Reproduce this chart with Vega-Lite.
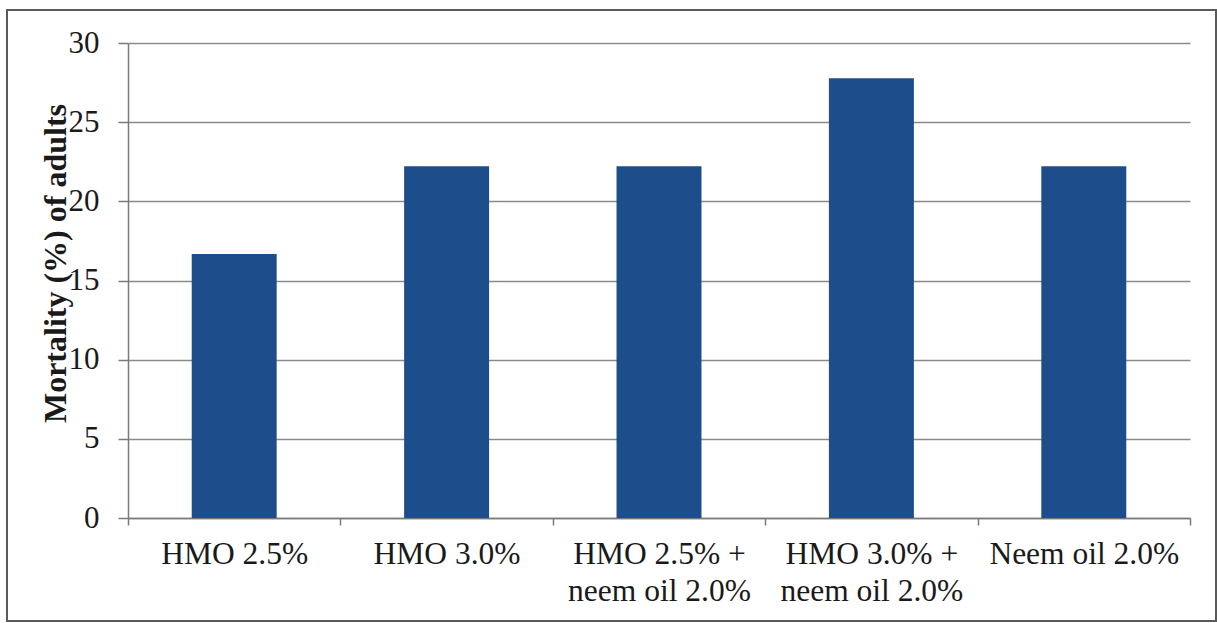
{
  "$schema": "https://vega.github.io/schema/vega-lite/v6.json",
  "width": 1209,
  "height": 611,
  "autosize": {"type": "none"},
  "padding": {"left": 7, "top": 10, "right": 1, "bottom": 2},
  "background": "white",
  "config": {
    "font": "Liberation Serif",
    "view": {"stroke": "#5a5a5a", "strokeWidth": 2, "fill": "white"}
  },
  "data": {
    "values": [
      {"treatment": "HMO 2.5%", "mortality": 16.67},
      {"treatment": "HMO 3.0%", "mortality": 22.22},
      {"treatment": "HMO 2.5% +\nneem oil 2.0%", "mortality": 22.22},
      {"treatment": "HMO 3.0% +\nneem oil 2.0%", "mortality": 27.78},
      {"treatment": "Neem oil 2.0%", "mortality": 22.22}
    ]
  },
  "mark": {"type": "bar", "color": "#1e4d8b", "width": {"band": 0.4}},
  "encoding": {
    "x": {
      "field": "treatment",
      "type": "nominal",
      "sort": null,
      "scale": {"range": [121, 1183], "paddingInner": 0, "paddingOuter": 0},
      "axis": {
        "title": null,
        "offset": -103,
        "tickBand": "extent",
        "tickSize": 7,
        "tickWidth": 1.5,
        "tickColor": "#7a7a7a",
        "domainColor": "#7a7a7a",
        "domainWidth": 1.5,
        "labelAngle": 0,
        "labelFontSize": 31.5,
        "labelColor": "#1a1a1a",
        "labelPadding": 13,
        "labelLimit": 0,
        "labelLineHeight": 37,
        "labelExpr": "isValid(datum.value) ? split(datum.value, '\\n') : ''"
      }
    },
    "y": {
      "field": "mortality",
      "type": "quantitative",
      "scale": {"domain": [0, 30], "range": [508, 33], "nice": false},
      "axis": {
        "offset": -121,
        "values": [0, 5, 10, 15, 20, 25, 30],
        "grid": true,
        "gridColor": "#8a8a8a",
        "gridWidth": 1.5,
        "tickSize": 10,
        "tickWidth": 1.5,
        "tickColor": "#7a7a7a",
        "domainColor": "#7a7a7a",
        "domainWidth": 1.5,
        "labelFontSize": 31,
        "labelColor": "#1a1a1a",
        "labelPadding": 19,
        "title": "Mortality (%) of adults",
        "titleFontSize": 32,
        "titleFontWeight": "bold",
        "titleColor": "#1a1a1a",
        "titleAngle": -90,
        "titleAlign": "center",
        "titleBaseline": "alphabetic",
        "titleX": -63,
        "titleY": 253
      }
    }
  }
}
